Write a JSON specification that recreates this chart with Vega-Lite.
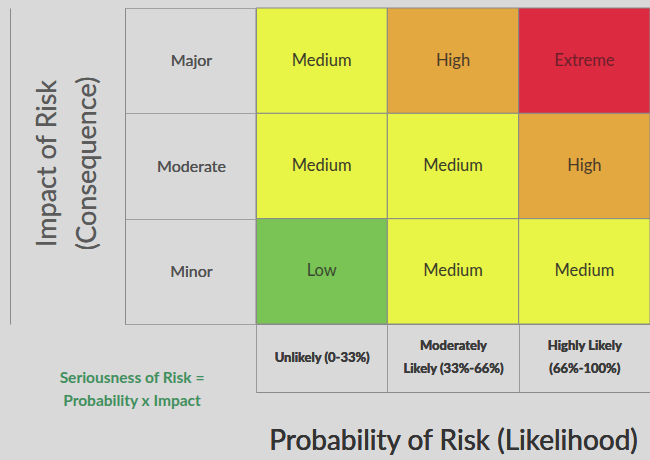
{
  "$schema": "https://vega.github.io/schema/vega-lite/v6.json",
  "width": 394,
  "height": 316,
  "autosize": {"type": "none"},
  "padding": {"left": 256, "top": 8, "right": 0, "bottom": 136},
  "background": "#d9d9d9",
  "config": {"view": {"stroke": null}, "font": "Lato"},
  "title": {
    "text": ["Seriousness of Risk =", "Probability x Impact"],
    "orient": "top",
    "anchor": "start",
    "frame": "group",
    "align": "center",
    "baseline": "top",
    "offset": 0,
    "dx": -124,
    "dy": 409,
    "fontSize": 15.5,
    "fontWeight": "bold",
    "color": "#3f8f5c",
    "lineHeight": 23
  },
  "data": {
    "values": [
      {"impact": "Major", "likelihood": "Unlikely (0-33%)", "risk": "Medium"},
      {"impact": "Major", "likelihood": "Moderately Likely (33%-66%)", "risk": "High"},
      {"impact": "Major", "likelihood": "Highly Likely (66%-100%)", "risk": "Extreme"},
      {"impact": "Moderate", "likelihood": "Unlikely (0-33%)", "risk": "Medium"},
      {"impact": "Moderate", "likelihood": "Moderately Likely (33%-66%)", "risk": "Medium"},
      {"impact": "Moderate", "likelihood": "Highly Likely (66%-100%)", "risk": "High"},
      {"impact": "Minor", "likelihood": "Unlikely (0-33%)", "risk": "Low"},
      {"impact": "Minor", "likelihood": "Moderately Likely (33%-66%)", "risk": "Medium"},
      {"impact": "Minor", "likelihood": "Highly Likely (66%-100%)", "risk": "Medium"}
    ]
  },
  "encoding": {
    "x": {
      "field": "likelihood",
      "type": "nominal",
      "scale": {"domain": ["Unlikely (0-33%)", "Moderately Likely (33%-66%)", "Highly Likely (66%-100%)"], "paddingInner": 0, "paddingOuter": 0},
      "axis": {
        "orient": "bottom",
        "domain": true,
        "domainColor": "#8a8a8a",
        "ticks": true,
        "tickBand": "extent",
        "tickSize": 68,
        "tickColor": "#9a9a9a",
        "grid": false,
        "labelAngle": 0,
        "labelAlign": "center",
        "labelBaseline": "middle",
        "labelPadding": {"condition": {"test": "datum.value == 'Unlikely (0-33%)'", "value": -35}, "value": -47},
        "labelFontSize": 13,
        "labelFontWeight": "bold",
        "labelColor": "#3a3a3a",
        "labelLineHeight": 23,
        "labelLimit": 0,
        "labelOverlap": false,
        "labelExpr": "datum.label == 'Moderately Likely (33%-66%)' ? ['Moderately', 'Likely (33%-66%)'] : datum.label == 'Highly Likely (66%-100%)' ? ['Highly Likely', '(66%-100%)'] : datum.label",
        "title": "Probability of Risk (Likelihood)",
        "titleX": 197,
        "titleY": 117,
        "titleAlign": "center",
        "titleBaseline": "middle",
        "titleFontSize": 28,
        "titleFontWeight": "normal",
        "titleColor": "#333333"
      }
    },
    "y": {
      "field": "impact",
      "type": "nominal",
      "scale": {"domain": ["Major", "Moderate", "Minor"], "paddingInner": 0, "paddingOuter": 0},
      "axis": {
        "orient": "left",
        "domain": true,
        "domainColor": "#8a8a8a",
        "ticks": true,
        "tickBand": "extent",
        "tickSize": 131,
        "tickColor": "#a0a0a0",
        "grid": false,
        "labelAlign": "center",
        "labelBaseline": "middle",
        "labelPadding": -66,
        "labelFontSize": 16,
        "labelColor": "#505050",
        "labelFontWeight": "normal",
        "labelLimit": 0,
        "title": ["Impact of Risk", "(Consequence)"],
        "titleAngle": 270,
        "titleX": -209,
        "titleY": 155,
        "titleAlign": "center",
        "titleBaseline": "middle",
        "titleLineHeight": 40,
        "titleFontSize": 27,
        "titleFontWeight": "normal",
        "titleColor": "#5a5a5a"
      }
    }
  },
  "layer": [
    {
      "mark": {"type": "rect", "stroke": "#8a8a8a", "strokeWidth": 1},
      "encoding": {
        "fill": {
          "field": "risk",
          "type": "nominal",
          "scale": {"domain": ["Low", "Medium", "High", "Extreme"], "range": ["#7ac456", "#e8f546", "#e3a83f", "#dc2a40"]},
          "legend": null
        }
      }
    },
    {
      "mark": {"type": "text", "fontSize": 16.5, "font": "Lato"},
      "encoding": {
        "text": {"field": "risk", "type": "nominal"},
        "color": {
          "field": "risk",
          "type": "nominal",
          "scale": {"domain": ["Low", "Medium", "High", "Extreme"], "range": ["#3a4a30", "#3a3a2a", "#4a3a2a", "#6d1f2b"]},
          "legend": null
        }
      }
    },
    {
      "mark": {"type": "rect", "opacity": 0},
      "encoding": {
        "x": {
          "field": "likelihood",
          "type": "nominal",
          "axis": {"orient": "bottom", "offset": 68, "domain": true, "domainColor": "#8a8a8a", "ticks": false, "labels": false, "grid": false, "title": null}
        },
        "y": {
          "field": "impact",
          "type": "nominal",
          "axis": {"orient": "left", "offset": 131, "domain": true, "domainColor": "#8a8a8a", "ticks": false, "labels": false, "grid": false, "title": null}
        }
      }
    },
    {
      "mark": {"type": "rect", "opacity": 0},
      "encoding": {
        "y": {
          "field": "impact",
          "type": "nominal",
          "axis": {"orient": "left", "offset": 246, "domain": true, "domainColor": "#8a8a8a", "ticks": false, "labels": false, "grid": false, "title": null}
        }
      }
    }
  ],
  "resolve": {"axis": {"x": "independent", "y": "independent"}}
}
